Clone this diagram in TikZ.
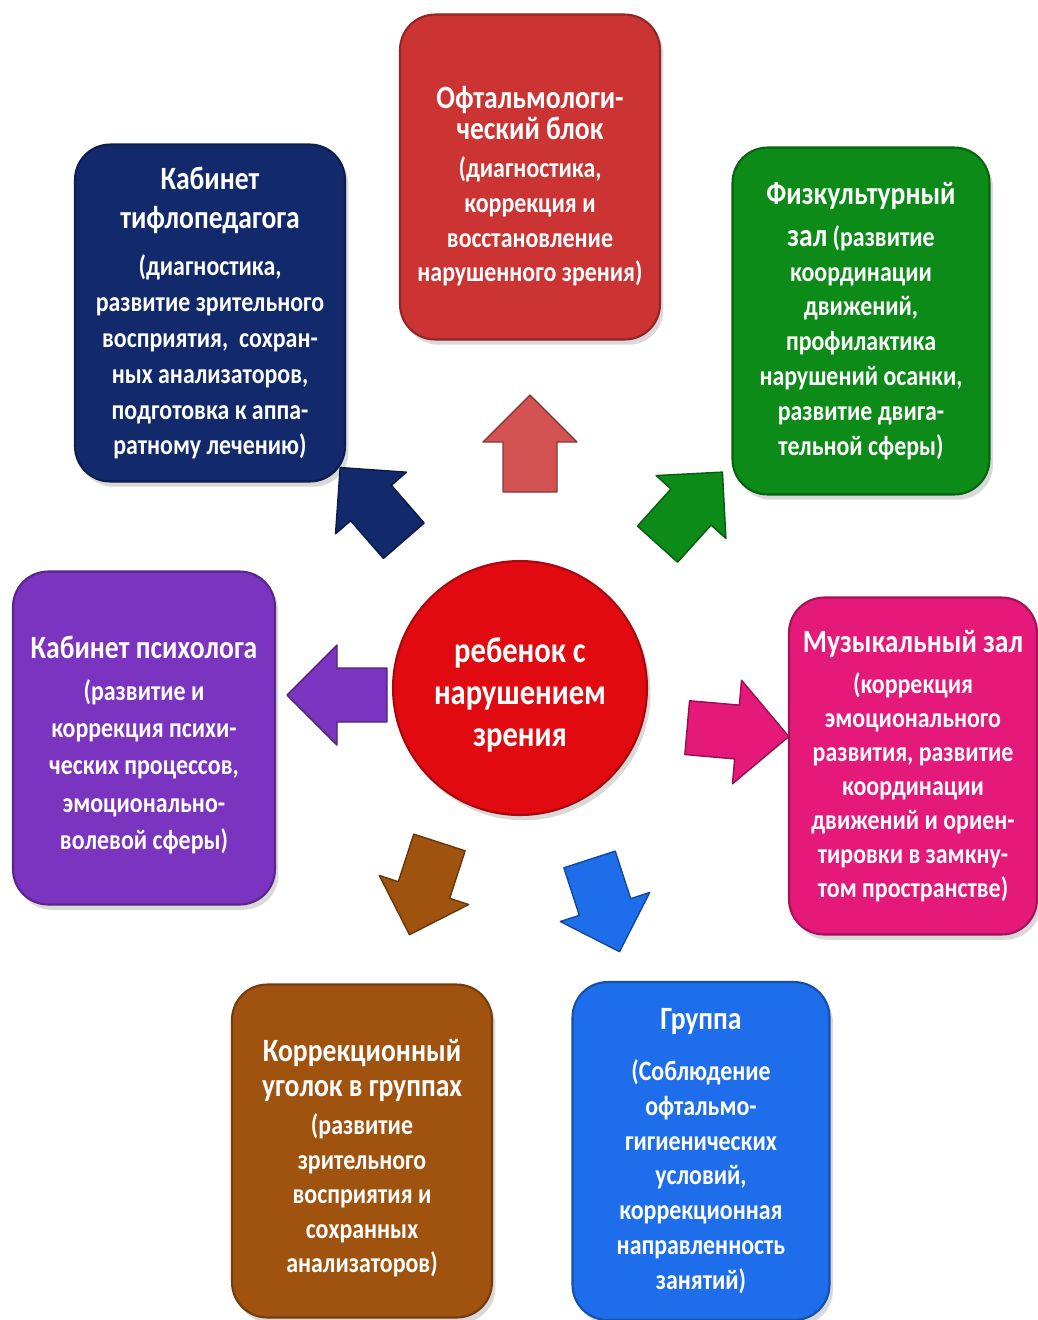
\documentclass[tikz,border=0pt]{standalone}
\usepackage{fontspec}
\setmainfont{Carlito}[FakeStretch=0.85]
\usetikzlibrary{shadows}
\definecolor{tifblue}{HTML}{12296C}
\definecolor{oftred}{HTML}{CB3433}
\definecolor{fizgreen}{HTML}{0C8B18}
\definecolor{psyviolet}{HTML}{7A34BF}
\definecolor{muspink}{HTML}{E5197A}
\definecolor{korbrown}{HTML}{A0530F}
\definecolor{grpblue}{HTML}{1E6EEB}
\definecolor{childred}{HTML}{E00A10}
\newcommand{\hdsize}{\fontsize{18.5}{20.4}\selectfont}
\newcommand{\bdat}[1]{\fontsize{16}{#1}\selectfont\lineskiplimit=-30pt\relax}
\newcommand{\topgap}[1]{\rule{0pt}{#1}}
\tikzset{pics/blockarr/.style={code={\path[pic actions] (-50,-27) -- (0,-27) -- (0,-#1) -- (#1,0) -- (0,#1) -- (0,27) -- (-50,27) -- cycle;}}}

\begin{document}
\begin{tikzpicture}[x=0.02cm,y=-0.02cm, every node/.style={font=\bfseries\bdat{20.4},text=white},
 box/.style={draw=#1!72!black,fill=#1,line width=1.2pt,rounded corners=20pt,align=center,inner sep=2pt,
  drop shadow={opacity=0.3,shadow xshift=2pt,shadow yshift=-3pt}},
 arr/.style={fill=#1,draw=#1!65!black,line width=0.8pt,line join=round}]
\useasboundingbox (0,0) rectangle (1038,1320);
\node[circle,fill=childred,draw=childred!75!black,line width=1.2pt,minimum size=5.08cm,align=center,
 font=\bfseries\fontsize{20.5}{23.8}\selectfont,drop shadow={opacity=0.3,shadow xshift=2pt,shadow yshift=-3pt}]
 (child) at (520,688) {\topgap{22pt}ребенок с\\нарушением\\зрения};
\node[box=tifblue,minimum width=5.4cm,minimum height=6.74cm] (tif) at (210,313)
 {\hdsize Кабинет\\[2.3pt]\hdsize тифлопедагога\\[6.2pt] (диагностика,\\развитие зрительного\\восприятия,\ \ сохран-\\ных анализаторов,\\подготовка к аппа-\\ратному лечению)};
\node[box=oftred,minimum width=5.2cm,minimum height=6.5cm,font=\bfseries\bdat{19.8}] (oft) at (530,177)
 {\hdsize\topgap{23pt}Офтальмологи-\\[-1.7pt]\hdsize ческий блок\\[1.7pt] (диагностика,\\коррекция и\\восстановление\\нарушенного зрения)};
\node[box=fizgreen,minimum width=5.14cm,minimum height=6.94cm,font=\bfseries\bdat{19.8}] (fiz) at (861,321)
 {\hdsize Физкультурный\\[4pt]{\hdsize зал} (развитие\\координации\\движений,\\профилактика\\нарушений осанки,\\развитие двига-\\тельной сферы)};
\node[box=psyviolet,minimum width=5.24cm,minimum height=6.66cm,font=\bfseries\bdat{21.2}] (psy) at (144,738)
 {\hdsize\topgap{20.7pt}Кабинет психолога\\[2.6pt] (развитие и\\коррекция психи-\\ческих процессов,\\эмоционально-\\волевой сферы)};
\node[box=muspink,minimum width=4.96cm,minimum height=6.74cm,font=\bfseries\bdat{19.3}] (mus) at (913,766)
 {\hdsize Музыкальный зал\\[3.9pt] (коррекция\\эмоционального\\развития, развитие\\координации\\движений и ориен-\\тировки в замкну-\\том пространстве)};
\node[box=korbrown,minimum width=5.2cm,minimum height=6.66cm,font=\bfseries\bdat{19.6}] (kor) at (362,1151)
 {\hdsize\topgap{20.7pt}Коррекционный\\[0.6pt]\hdsize уголок в группах\\[1.9pt] (развитие\\зрительного\\восприятия и\\сохранных\\анализаторов)};
\node[box=grpblue,minimum width=5.14cm,minimum height=6.76cm,font=\bfseries\bdat{19.8}] (grp) at (701,1151)
 {\hdsize Группа\\[9.1pt] (Соблюдение\\офтальмо-\\гигиенических\\условий,\\коррекционная\\направленность\\занятий)};
\pic[arr=oftred!85!white,rotate=90] (toOft) at (530,442) {blockarr=47};
\pic[arr=tifblue,rotate=131] (toTif) at (371,503) {blockarr=47};
\pic[arr=fizgreen,rotate=48] (toFiz) at (691,507) {blockarr=47};
\pic[arr=psyviolet,rotate=180] (toPsy) at (337,695) {blockarr=50};
\pic[arr=muspink,rotate=-5] (toMus) at (737,732) {blockarr=52};
\pic[arr=korbrown,rotate=-108] (toKor) at (424,890) {blockarr=47};
\pic[arr=grpblue,rotate=-72] (toGrp) at (605,907) {blockarr=47};
\end{tikzpicture}
\end{document}
